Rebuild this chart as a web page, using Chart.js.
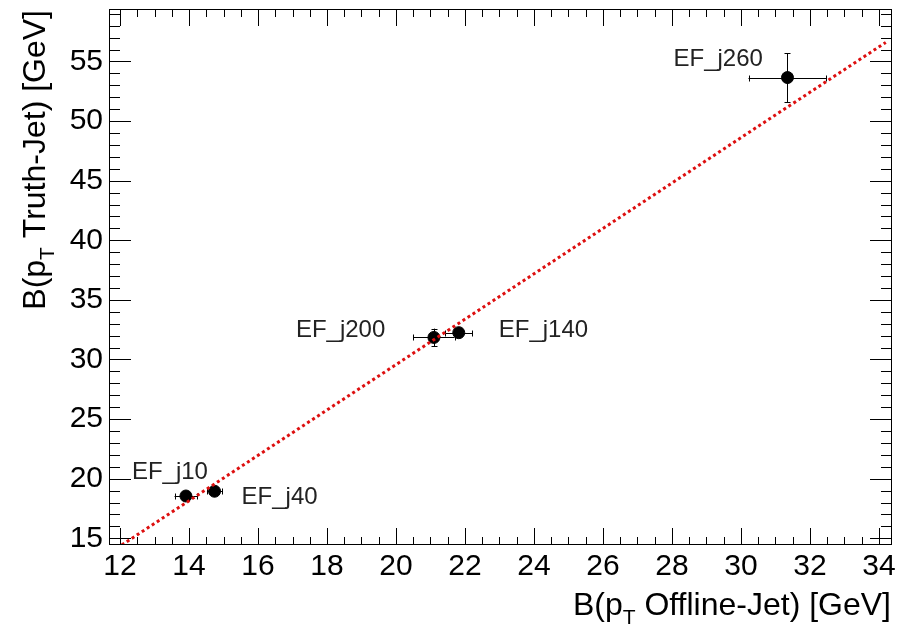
<!DOCTYPE html>
<html>
<head>
<meta charset="utf-8">
<script src="https://cdn.jsdelivr.net/npm/chart.js@4/dist/chart.umd.min.js"></script>
<style>
  html, body { margin: 0; padding: 0; background: #fff; }
  canvas { display: block; }
</style>
</head>
<body>
<canvas id="bias" width="899" height="630"></canvas>
<script>
// trigger chains and the mean biases measured for each
const triggers = ['EF_j10', 'EF_j40', 'EF_j200', 'EF_j140', 'EF_j260'];
const offlineBias = [13.91, 14.74, 21.10, 21.82, 31.35];
const truthBias = [18.55, 18.95, 31.85, 32.25, 53.65];
const offlineErr = [0.33, 0.22, 0.60, 0.39, 1.13];
const truthErr = [0.20, 0.20, 0.74, 0.25, 2.05];

// straight-line fit through the points
const fitX = [12.05, 34.2];
const fitY = [14.44, 56.6];

const xTicks = [12, 14, 16, 18, 20, 22, 24, 26, 28, 30, 32, 34];
const yTicks = [15, 20, 25, 30, 35, 40, 45, 50, 55];

const FONT = '"Liberation Sans", Arial, Helvetica, sans-serif';

// where each trigger name sits relative to its marker (px)
const labelOffset = {
  EF_j10: [-54, -17],
  EF_j40: [27, 13],
  EF_j200: [-138, 0],
  EF_j140: [40, 4],
  EF_j260: [-114, -12]
};

const points = offlineBias.map((x, i) => ({x: x, y: truthBias[i]}));
const fitLine = fitX.map((x, i) => ({x: x, y: fitY[i]}));

// text with a subscript, e.g. B(p_T ...)
function drawSubText(ctx, pieces, x, y, align) {
  let total = 0;
  pieces.forEach(p => {
    ctx.font = p.size + 'px ' + FONT;
    total += ctx.measureText(p.text).width;
  });
  let cx = align === 'right' ? x - total : x;
  pieces.forEach(p => {
    ctx.font = p.size + 'px ' + FONT;
    ctx.fillText(p.text, cx, y + (p.shift || 0));
    cx += ctx.measureText(p.text).width;
  });
}

const rootFrame = {
  id: 'rootFrame',
  beforeDatasetsDraw(chart) {
    const ctx = chart.ctx;
    const xs = chart.scales.x, ys = chart.scales.y;
    ctx.save();
    ctx.strokeStyle = '#000';
    ctx.lineWidth = 1;
    points.forEach((p, i) => {
      const px = Math.round(xs.getPixelForValue(p.x)) + 0.5;
      const py = Math.round(ys.getPixelForValue(p.y)) + 0.5;
      const x0 = xs.getPixelForValue(p.x - offlineErr[i]);
      const x1 = xs.getPixelForValue(p.x + offlineErr[i]);
      const y0 = ys.getPixelForValue(p.y - truthErr[i]);
      const y1 = ys.getPixelForValue(p.y + truthErr[i]);
      ctx.beginPath();
      ctx.moveTo(x0, py); ctx.lineTo(x1, py);
      ctx.moveTo(px, y0); ctx.lineTo(px, y1);
      // end caps
      ctx.moveTo(Math.round(x0) + 0.5, py - 3); ctx.lineTo(Math.round(x0) + 0.5, py + 3);
      ctx.moveTo(Math.round(x1) + 0.5, py - 3); ctx.lineTo(Math.round(x1) + 0.5, py + 3);
      ctx.moveTo(px - 3, Math.round(y0) + 0.5); ctx.lineTo(px + 3, Math.round(y0) + 0.5);
      ctx.moveTo(px - 3, Math.round(y1) + 0.5); ctx.lineTo(px + 3, Math.round(y1) + 0.5);
      ctx.stroke();
    });
    ctx.restore();
  },
  afterDraw(chart) {
    const ctx = chart.ctx;
    const a = chart.chartArea;
    const xs = chart.scales.x, ys = chart.scales.y;
    ctx.save();
    ctx.strokeStyle = '#000';
    ctx.lineWidth = 1;
    ctx.strokeRect(Math.round(a.left) + 0.5, Math.round(a.top) + 0.5,
      Math.round(a.right - a.left) - 1, Math.round(a.bottom - a.top) - 1);

    // ticks inside the frame on all four sides
    ctx.beginPath();
    for (let v = 11.5; v <= xs.max; v += 0.5) {
      if (v < xs.min) continue;
      const len = (v % 2 === 0) ? 17 : 8;
      const px = Math.round(xs.getPixelForValue(v)) + 0.5;
      ctx.moveTo(px, a.bottom); ctx.lineTo(px, a.bottom - len);
      ctx.moveTo(px, a.top); ctx.lineTo(px, a.top + len);
    }
    for (let v = 15; v <= ys.max; v += 1) {
      const len = (v % 5 === 0) ? 22 : 11;
      const py = Math.round(ys.getPixelForValue(v)) + 0.5;
      ctx.moveTo(a.left, py); ctx.lineTo(a.left + len, py);
      ctx.moveTo(a.right, py); ctx.lineTo(a.right - len, py);
    }
    ctx.stroke();

    // trigger names
    ctx.fillStyle = '#222';
    ctx.textAlign = 'left';
    ctx.textBaseline = 'alphabetic';
    ctx.font = '24px ' + FONT;
    points.forEach((p, i) => {
      const off = labelOffset[triggers[i]];
      ctx.fillText(triggers[i], xs.getPixelForValue(p.x) + off[0], ys.getPixelForValue(p.y) + off[1]);
    });

    // axis titles
    ctx.fillStyle = '#000';
    drawSubText(ctx, [
      {text: 'B(p', size: 32},
      {text: 'T', size: 21, shift: 9},
      {text: ' Offline-Jet) [GeV]', size: 32}
    ], a.right - 1, 615, 'right');

    ctx.translate(45, a.top + 1);
    ctx.rotate(-Math.PI / 2);
    drawSubText(ctx, [
      {text: 'B(p', size: 32},
      {text: 'T', size: 21, shift: 9},
      {text: ' Truth-Jet) [GeV]', size: 32}
    ], 0, 0, 'right');
    ctx.restore();
  }
};

new Chart(document.getElementById('bias'), {
  type: 'scatter',
  data: {
    datasets: [
      {
        type: 'line',
        data: fitLine,
        borderColor: '#dd0f0f',
        borderWidth: 3,
        borderDash: [3, 3],
        pointRadius: 0,
        order: 0
      },
      {
        data: points,
        backgroundColor: '#000',
        borderColor: '#000',
        pointRadius: 6,
        pointStyle: 'circle',
        order: 1
      }
    ]
  },
  options: {
    responsive: false,
    animation: false,
    devicePixelRatio: 1,
    layout: {padding: {top: 9, right: 4, left: 0, bottom: 0}},
    plugins: {legend: {display: false}, tooltip: {enabled: false}},
    scales: {
      x: {
        type: 'linear',
        min: 11.68,
        max: 34.38,
        grid: {display: false, drawTicks: false},
        border: {display: false},
        afterBuildTicks(scale) { scale.ticks = xTicks.map(v => ({value: v})); },
        afterFit(scale) {
          scale.height = 85;
          scale.paddingLeft = 0;
          scale.paddingRight = 0;
        },
        ticks: {
          font: {family: FONT, size: 30},
          color: '#000',
          padding: 4,
          maxRotation: 0,
          autoSkip: false
        }
      },
      y: {
        type: 'linear',
        min: 14.44,
        max: 59.4,
        grid: {display: false, drawTicks: false},
        border: {display: false},
        afterBuildTicks(scale) { scale.ticks = yTicks.map(v => ({value: v})); },
        afterFit(scale) {
          scale.width = 109;
          scale.paddingTop = 0;
          scale.paddingBottom = 0;
        },
        ticks: {
          font: {family: FONT, size: 30},
          color: '#000',
          padding: 6,
          autoSkip: false
        }
      }
    }
  },
  plugins: [rootFrame]
});
</script>
</body>
</html>
